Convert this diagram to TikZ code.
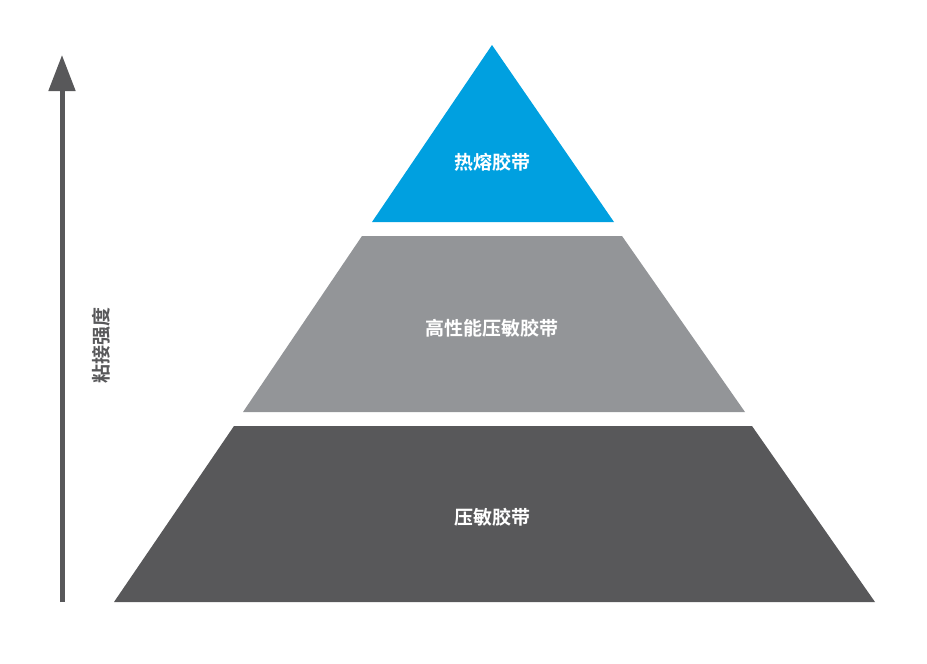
\documentclass[tikz,border=0pt]{standalone}
\usepackage{fontspec}
\newfontfamily\cjk{Noto Sans CJK SC}[BoldFont={Noto Sans CJK SC Bold}]
\usetikzlibrary{arrows.meta}
\definecolor{tblue}{HTML}{00A0E0}
\definecolor{tgray}{HTML}{939598}
\definecolor{tdark}{HTML}{58585A}
\begin{document}
\begin{tikzpicture}[x=1pt,y=-1pt,
  lbl/.style={text=white,font=\cjk\bfseries\fontsize{19}{22}\selectfont}]
\useasboundingbox (0,0) rectangle (927,664);
\fill[tblue] (492,45) -- (614,222) -- (372,222) -- cycle;
\fill[tgray] (362,236) -- (622,236) -- (745,412) -- (243,412) -- cycle;
\fill[tdark] (234,426) -- (752,426) -- (875,602) -- (114,602) -- cycle;
\node[lbl] (top) at (492,162) {热熔胶带};
\node[lbl] (mid) at (492,328) {高性能压敏胶带};
\node[lbl] (bot) at (492,517) {压敏胶带};
\coordinate (a0) at (62,602);
\coordinate (a1) at (62,55);
\draw[tdark,line width=5pt,-{Triangle[width=26pt,length=36pt]}] (a0) -- (a1);
\node[rotate=90,text=tdark,font=\cjk\bfseries\fontsize{19}{22}\selectfont] (ylab) at (101,345) {粘接强度};
\end{tikzpicture}
\end{document}
